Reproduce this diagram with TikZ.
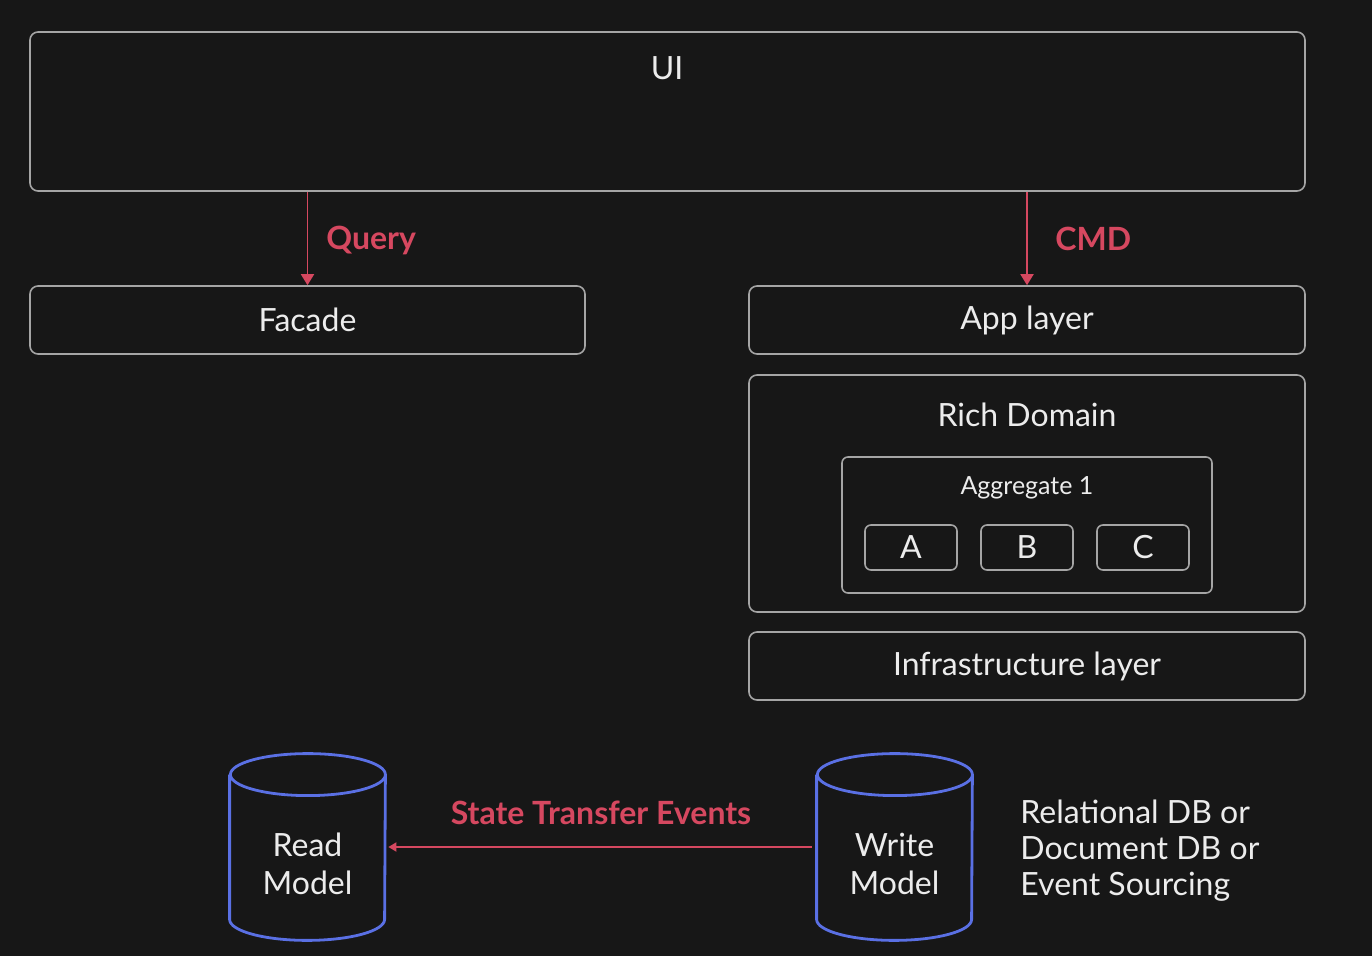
\documentclass[tikz,border=0pt]{standalone}
\usepackage{fontspec}
\setmainfont{Lato}
\usetikzlibrary{arrows.meta}
\begin{document}
\begin{tikzpicture}[x=0.5pt,y=-0.5pt,font=\fontsize{16}{19}\selectfont,
	layerbox/.style={draw=boxgray,line width=0.8pt,rounded corners=4pt,inner sep=0pt,text=txtwhite},
	itembox/.style={layerbox,rounded corners=3pt,minimum width=46pt,minimum height=22.5pt},
	lbl/.style={text=txtwhite,inner sep=0pt},
	redlbl/.style={text=arrowred,font=\fontsize{16}{19}\selectfont\bfseries,inner sep=0pt},
	dbbody/.style={minimum width=77.5pt,minimum height=93pt,inner sep=0pt},
	dbline/.style={draw=dbblue,line width=1.4pt},
	flow/.style={draw=arrowred,line width=0.9pt,-{Triangle[length=5.5pt,width=6.5pt]}}]
	%%% Colores
	\definecolor{bgcolor}{RGB}{23,23,23}
	\definecolor{boxgray}{RGB}{165,165,165}
	\definecolor{txtwhite}{RGB}{236,236,236}
	\definecolor{arrowred}{RGB}{214,72,96}
	\definecolor{dbblue}{RGB}{90,112,228}
	\def\ry{10.5pt}
	\def\rx{38.75pt}

	%%% Fondo
	\fill[bgcolor] (0,0) rectangle (1372,956);

	%%% Capas
	\node[layerbox,minimum width=637.5pt,minimum height=79.5pt] (ui) at (667.5,111.5) {};
	\node[lbl] (uititle) at (667,68) {UI};
	\node[layerbox,minimum width=277.5pt,minimum height=34pt] (facade) at (307.5,320) {Facade};
	\node[layerbox,minimum width=278pt,minimum height=34pt] (app) at (1027,320) {App layer};
	\node[layerbox,minimum width=278pt,minimum height=118.5pt] (domain) at (1027,493.5) {};
	\node[lbl] (domaintitle) at (1027,415) {Rich Domain};
	\node[layerbox,minimum width=278pt,minimum height=34pt] (infra) at (1027,666) {Infrastructure layer};

	%%% Agregado
	\node[layerbox,rounded corners=3pt,minimum width=185pt,minimum height=68pt] (agg) at (1027,525) {};
	\node[lbl,font=\fontsize{12.5}{15}\selectfont] (aggtitle) at (1027,488) {Aggregate 1};
	\foreach \name [count=\i from 0] in {A,B,C} {
		\node[itembox] (item\name) at (911+116*\i,547.5) {\name};
	}

	%%% Query / CMD
	\draw[flow] (ui.south -| facade.north) -- (facade.north);
	\node[redlbl,anchor=west] (querylbl) at (326,240) {Query};
	\draw[flow] (ui.south -| app.north) -- (app.north);
	\node[redlbl,anchor=west] (cmdlbl) at (1055,239) {CMD};

	%%% Bases de datos
	\node[dbbody] (read) at (307.5,847) {};
	\node[lbl,align=center] (readtxt) at (307.5,864) {Read\\Model};
	\node[dbbody] (write) at (894.5,847) {};
	\node[lbl,align=center] (writetxt) at (894.5,864) {Write\\Model};
	\foreach \db in {read,write} {
		% cuerpo y tapa del cilindro
		\draw[dbline] ([yshift=-\ry]\db.north west) -- ([yshift=\ry]\db.south west)
			arc[start angle=180,end angle=360,x radius=\rx,y radius=\ry]
			-- ([yshift=-\ry]\db.north east)
			arc[start angle=0,end angle=180,x radius=\rx,y radius=\ry]
			arc[start angle=180,end angle=360,x radius=\rx,y radius=\ry];
	}
	\draw[flow,-{Triangle[length=4pt,width=4.5pt]},shorten <=2.5pt,shorten >=1.5pt] (write.west) -- (read.east);
	\node[redlbl] (eventslbl) at (601,813) {State Transfer Events};
	\node[lbl,anchor=west,align=left,font=\fontsize{16}{18}\selectfont] (dbnote) at (1020,851)
		{Relational DB or\\Document DB or\\Event Sourcing};
\end{tikzpicture}
\end{document}
